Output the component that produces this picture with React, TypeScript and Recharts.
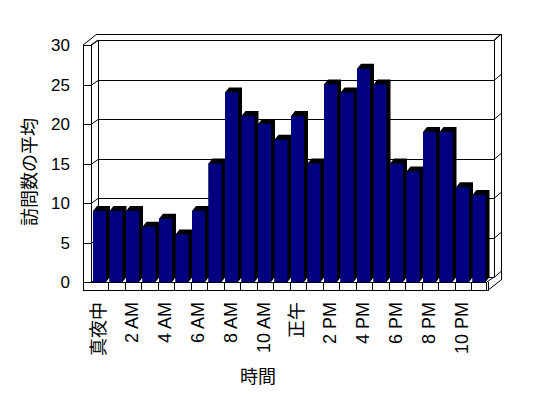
import React from 'react';
import { BarChart, Bar, XAxis, YAxis, CartesianGrid } from 'recharts';

// 時間帯ごとの平均訪問数
const hours = [
  '真夜中', '1 AM', '2 AM', '3 AM', '4 AM', '5 AM', '6 AM', '7 AM', '8 AM', '9 AM', '10 AM', '11 AM',
  '正午', '1 PM', '2 PM', '3 PM', '4 PM', '5 PM', '6 PM', '7 PM', '8 PM', '9 PM', '10 PM', '11 PM',
];
const visits = [9, 9, 9, 7, 8, 6, 9, 15, 24, 21, 20, 18, 21, 15, 25, 24, 27, 25, 15, 14, 19, 19, 12, 11];
const yTicks = [0, 5, 10, 15, 20, 25, 30];

const data = hours.map((hour, i) => ({ hour, visits: visits[i] }));

const W = 548;
const H = 398;
const MARGIN = { top: 45, right: 60, bottom: 0, left: 0 };
const Y_AXIS_W = 92;
const X_AXIS_H = 116;

// plot area (front plane)
const L = MARGIN.left + Y_AXIS_W;
const R = W - MARGIN.right;
const T = MARGIN.top;
const B = H - X_AXIS_H;

const FONT = '"Liberation Sans", "Noto Sans CJK JP", sans-serif';
const NAVY = '#000080';

const BarShape3D = (props: any) => {
  const { x, y, height } = props;
  if (height == null || height <= 0) return null;
  const fw = 13, dx = 4, dy = 5;
  const x0 = x + 1;
  const pts = [
    [x0, y], [x0 + dx, y - dy], [x0 + fw + dx, y - dy],
    [x0 + fw + dx, y + height - dy], [x0 + fw, y + height], [x0, y + height],
  ].map((p) => p.join(',')).join(' ');
  return (
    <g>
      <polygon points={pts} fill="#000" />
      <rect x={x0} y={y} width={fw} height={height} fill={NAVY} />
    </g>
  );
};

// floor cell dividers
const FloorCell = (props: any) => {
  const { x, y, width, height, index } = props;
  const bot = y + height;
  const xr = Math.round(x + width) - 0.5;
  return <line key={`fc-${index}`} x1={xr} y1={bot} x2={xr} y2={bot + 9} stroke="#000" strokeWidth={1} />;
};

const GridLine = (props: any) => {
  const { x1, x2, y1, index } = props;
  const y = Math.round(y1) + 0.5;
  const yb = y - 5;
  return (
    <g key={`gl-${index}`} stroke="#000" strokeWidth={1} fill="none">
      <line x1={x1 - 9} y1={y} x2={x1 - 1} y2={y} />
      <line x1={x1 - 1} y1={y} x2={x1 + 6} y2={yb} />
      <line x1={x1 + 6} y1={yb} x2={x2 + 6} y2={yb} />
      <line x1={x2 + 6} y1={yb} x2={x2 + 13} y2={yb - 6} />
    </g>
  );
};

const Frame = () => (
  <g stroke="#000" strokeWidth={1} fill="none">
    {/* left wall */}
    <line x1={L - 8.5} y1={T} x2={L - 8.5} y2={B + 9} />
    <line x1={L - 0.5} y1={T} x2={L - 0.5} y2={B} />
    <line x1={L - 9} y1={T + 0.5} x2={L - 1} y2={T + 0.5} />
    <line x1={L - 9} y1={T} x2={L + 5} y2={T - 11} />
    <line x1={L - 1} y1={T} x2={L + 6} y2={T - 5} />
    {/* back wall */}
    <line x1={L + 6.5} y1={T - 5} x2={L + 6.5} y2={B - 5} />
    <line x1={R + 6.5} y1={T - 5} x2={R + 6.5} y2={B - 5} />
    <line x1={L + 5} y1={T - 10.5} x2={R + 13} y2={T - 10.5} />
    <line x1={R + 13.5} y1={T - 11} x2={R + 13.5} y2={B - 2} />
    <line x1={R + 6} y1={T - 5} x2={R + 13} y2={T - 11} />
    {/* floor */}
    <line x1={L - 9} y1={B + 8.5} x2={R - 1} y2={B + 8.5} />
    <line x1={L - 1} y1={B + 0.5} x2={R - 1} y2={B + 0.5} />
    <line x1={R - 1.5} y1={B} x2={R - 1.5} y2={B + 9} />
    <line x1={R - 1} y1={B + 9} x2={R + 13} y2={B - 2} />
    <line x1={R - 1} y1={B} x2={R + 6} y2={B - 5} />
  </g>
);

const XTick = (props: any) => {
  const { x, y, payload } = props;
  return (
    <text
      x={x - 1}
      y={y}
      transform={`rotate(-90, ${x - 1}, ${y})`}
      textAnchor="end"
      dominantBaseline="central"
      fontSize={18}
      fontFamily={FONT}
      fill="#000"
    >
      {payload.value}
    </text>
  );
};

const App: React.FC = () => {
  return (
    <div style={{ position: 'absolute', left: 0, top: 0, width: W, height: H, background: '#fff' }}>
      <BarChart width={W} height={H} data={data} margin={MARGIN} barCategoryGap={0}>
        <Frame />
        <CartesianGrid horizontal={GridLine} vertical={false} />
        <XAxis
          dataKey="hour"
          interval={1}
          height={X_AXIS_H}
          axisLine={false}
          tickLine={false}
          tickSize={0}
          tickMargin={20}
          tick={XTick}
        />
        <YAxis
          domain={[0, 30]}
          ticks={yTicks}
          width={Y_AXIS_W}
          axisLine={false}
          tickLine={false}
          tickSize={0}
          tickMargin={22}
          tick={{ fill: '#000', fontSize: 17, fontFamily: FONT }}
        />
        <Bar
          dataKey="visits"
          isAnimationActive={false}
          shape={BarShape3D}
          background={FloorCell}
        />
        <text
          x={30}
          y={172}
          transform="rotate(-90, 30, 172)"
          textAnchor="middle"
          dominantBaseline="central"
          fontSize={18}
          fontFamily={FONT}
        >
          訪問数の平均
        </text>
        <text x={258} y={377} textAnchor="middle" dominantBaseline="central" fontSize={18} fontFamily={FONT}>
          時間
        </text>
      </BarChart>
    </div>
  );
};

export default App;
